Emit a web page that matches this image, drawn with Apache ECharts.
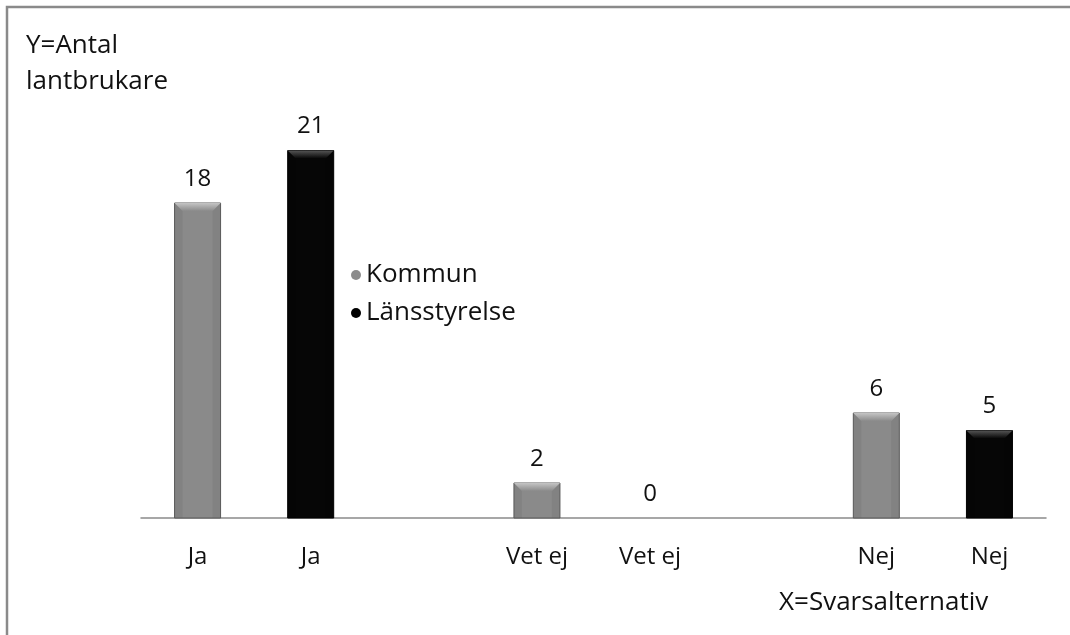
<!DOCTYPE html>
<html>
<head>
<meta charset="utf-8">
<script src="https://cdn.jsdelivr.net/npm/echarts@6/dist/echarts.min.js"></script>
<style>
  html, body { margin: 0; padding: 0; background: #fff; }
  #container { width: 1070px; height: 635px; }
</style>
</head>
<body>
<div id="container"></div>
<script>
// data
var categories = ['Ja', 'Ja', '', 'Vet ej', 'Vet ej', '', 'Nej', 'Nej'];
var kommun = [18, null, null, 2, null, null, 6, null];
var lansstyrelse = [null, 21, null, null, 0, null, null, 5];

var FONT = '"Open Sans", sans-serif';

function toPairs(arr) {
    var out = [];
    arr.forEach(function (v, i) { if (v !== null) out.push([i, v]); });
    return out;
}

// bar with bevelled top, drawn from axis coordinates
function bevelBar(face, light, dark) {
    return function (params, api) {
        var idx = api.value(0), val = api.value(1);
        var top = api.coord([idx, val]);
        var base = api.coord([idx, 0]);
        var w = 46, b = 8;
        var x0 = top[0] - w / 2, x1 = top[0] + w / 2;
        var y0 = top[1], y1 = base[1];
        var children = [{
            type: 'text',
            style: {
                text: String(val), x: top[0], y: y0 - 12,
                align: 'center', verticalAlign: 'bottom',
                font: '24px ' + FONT, fill: '#111'
            }
        }];
        if (y1 - y0 > 1) {
            var bb = Math.min(b, (y1 - y0) / 2);
            children.push(
                { type: 'rect', shape: { x: x0, y: y0, width: w, height: y1 - y0 },
                  style: { fill: face, stroke: dark, lineWidth: 1 } },
                { type: 'polygon', shape: { points: [[x0, y0], [x0 + bb, y0 + bb], [x0 + bb, y1], [x0, y1]] },
                  style: { fill: dark, opacity: 0.15 } },
                { type: 'polygon', shape: { points: [[x1, y0], [x1 - bb, y0 + bb], [x1 - bb, y1], [x1, y1]] },
                  style: { fill: dark, opacity: 0.15 } },
                { type: 'polygon', shape: { points: [[x0, y0], [x1, y0], [x1 - bb, y0 + bb], [x0 + bb, y0 + bb]] },
                  style: { fill: new echarts.graphic.LinearGradient(0, 0, 0, 1, [
                      { offset: 0, color: light }, { offset: 1, color: face }]) } }
            );
        }
        return { type: 'group', children: children };
    };
}

var myChart = echarts.init(document.getElementById('container'));

var option = {
    animation: false,
    grid: { left: 141, right: 24, top: 98, bottom: 117 },
    legend: {
        orient: 'vertical',
        left: 346, top: 257,
        icon: 'circle', itemWidth: 10, itemHeight: 10, itemGap: 12,
        textStyle: { fontFamily: FONT, fontSize: 26, color: '#111' },
        data: [
            { name: 'Kommun', itemStyle: { color: '#8c8c8c' } },
            { name: 'Länsstyrelse', itemStyle: { color: '#000' } }
        ]
    },
    xAxis: {
        type: 'category',
        data: categories,
        axisLine: { lineStyle: { color: '#8a8a8a', width: 1.5 } },
        axisTick: { show: false },
        axisLabel: { margin: 27, fontFamily: FONT, fontSize: 24, color: '#111', interval: 0 }
    },
    yAxis: {
        type: 'value', min: 0, max: 24,
        show: false, splitLine: { show: false }
    },
    series: [{
        name: 'Kommun', type: 'custom',
        itemStyle: { color: '#8c8c8c' },
        renderItem: bevelBar('#8a8a8a', '#c4c4c4', '#5a5a5a'),
        encode: { x: 0, y: 1 },
        data: toPairs(kommun)
    }, {
        name: 'Länsstyrelse', type: 'custom',
        itemStyle: { color: '#000' },
        renderItem: bevelBar('#060606', '#555', '#000'),
        encode: { x: 0, y: 1 },
        data: toPairs(lansstyrelse)
    }],
    graphic: [
        { type: 'polyline', shape: { points: [[7, 635], [7, 7], [1070, 7]] },
          style: { stroke: '#8a8a8a', lineWidth: 2.5, fill: null } },
        { type: 'text', left: 26, top: 28,
          style: { text: 'Y=Antal\nlantbrukare', font: '26px ' + FONT, lineHeight: 36, fill: '#111' } },
        { type: 'text', left: 779, top: 590,
          style: { text: 'X=Svarsalternativ', font: '26px ' + FONT, fill: '#111' } }
    ]
};

myChart.setOption(option);
</script>
</body>
</html>
